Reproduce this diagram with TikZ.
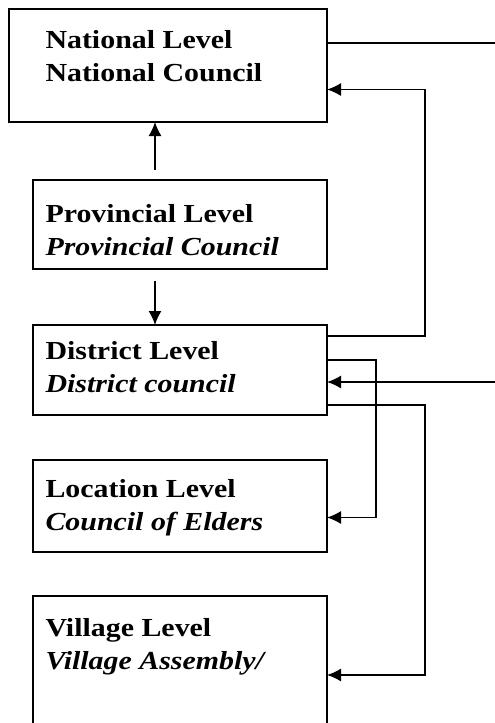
\documentclass[tikz,border=0pt]{standalone}
\usepackage{fontspec}
\setmainfont{Liberation Serif}[FakeStretch=1.15]
\usetikzlibrary{
  arrows.meta
}
\tikzset{
  % Shared values that are assigned to different keys in the styles below.
  globals/line width/.initial=1.4pt,
  globals/box width/.initial=294pt,
%
  % For the boxes of the levels.
  level box/.style={
    draw,
    line width=\pgfkeysvalueof{/tikz/globals/line width},
    minimum width=\pgfkeysvalueof{/tikz/globals/box width},
    inner sep=0pt,
    outer sep=0pt,
    anchor=north west},
%
  % For the two lines of text inside a box.  The base anchor sits on the
  % baseline of the second line.
  level text/.style={
    font={\fontsize{26pt}{33pt}\selectfont},
    align=left,
    inner sep=0pt,
    outer sep=0pt,
    anchor=base west},
%
  % For plain connectors.
  line/.style={
    line width=\pgfkeysvalueof{/tikz/globals/line width}},
%
  % For connectors with one arrow.
  link/.style={
    line,
    -{Latex[length=14pt,width=13pt]}}
}

\begin{document}
\begin{tikzpicture}[x=1pt,y=1pt]
  \clip (0,0) rectangle (495,-723);

  \node[level box,
        minimum width=318pt,
        minimum height=113pt] (national) at (9,-9) {};
  \node[level box, minimum height=89pt]  (provincial) at (33,-180) {};
  \node[level box, minimum height=90pt]  (district)   at (33,-325) {};
  \node[level box, minimum height=92pt]  (location)   at (33,-460) {};
  % The lower edge of this box is cut off by the page.
  \node[level box, minimum height=150pt] (village)    at (33,-596) {};

  \node[level text] (nationalText) at (45.5,-81)
    {\bfseries National Level\\\bfseries National Council};
  \node[level text] (provincialText) at (45.5,-255)
    {\bfseries Provincial Level\\\bfseries\itshape Provincial Council};
  \node[level text] (districtText) at (45.5,-392)
    {\bfseries District Level\\\bfseries\itshape District council};
  \node[level text] (locationText) at (45.5,-530)
    {\bfseries Location Level\\\bfseries\itshape Council of Elders};
  \node[level text] (villageText) at (45.5,-669)
    {\bfseries Village Level\\\bfseries\itshape Village Assembly/};

  % Free ends at the right edge and bends of the side lines.
  \coordinate (nationalOut) at (495,-43);
  \coordinate (districtIn)  at (495,-382);
  \coordinate (upRight)     at (425,-200);
  \coordinate (locRight)    at (376,-450);
  \coordinate (vilRight)    at (425,-550);

  \draw[line] ([yshift=22.5pt]national.east) -- (nationalOut);

  \draw[link] ([xshift=-25pt,yshift=10pt]provincial.north)
    -- ([xshift=-25pt]provincial.north |- national.south);
  \draw[link] ([xshift=-25pt,yshift=-12pt]provincial.south)
    -- ([xshift=-25pt]provincial.south |- district.north);

  \draw[link] ([yshift=-11pt]district.north east)
    -| (upRight) |- ([yshift=-24pt]national.east);
  \draw[link] ([yshift=-35pt]district.north east)
    -| (locRight) |- ([yshift=-11.5pt]location.east);
  \draw[link] ([yshift=10pt]district.south east)
    -| (vilRight) |- ([yshift=-79pt]village.north east);
  \draw[link] (districtIn) -- ([yshift=-12pt]district.east);
\end{tikzpicture}
\end{document}
